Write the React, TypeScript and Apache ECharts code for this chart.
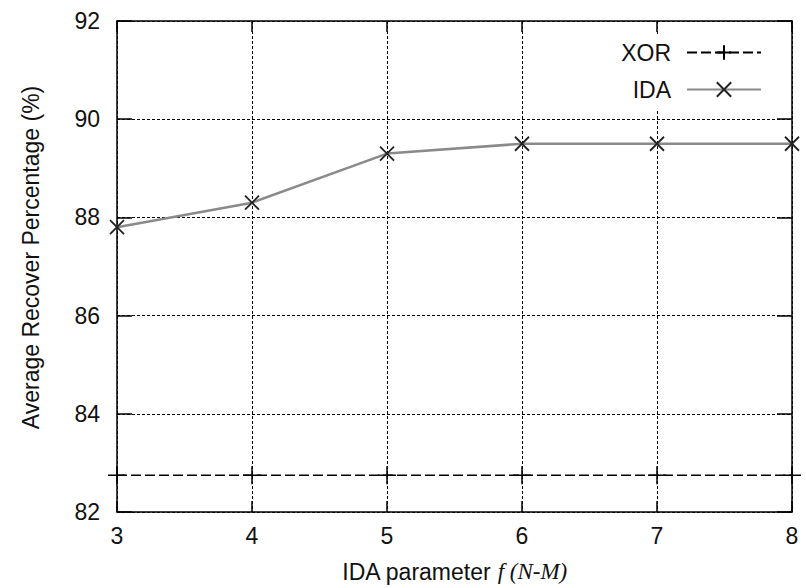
import React, { useEffect, useRef } from "react";
import * as echarts from "echarts";

const xValues = [3, 4, 5, 6, 7, 8];
const xorValues = [82.75, 82.75, 82.75, 82.75, 82.75, 82.75];
const idaValues = [87.8, 88.3, 89.3, 89.5, 89.5, 89.5];
const seriesNames = ["XOR", "IDA"];
const yAxisTitle = "Average Recover Percentage (%)";

const FONT = "Liberation Sans, Arial, sans-serif";
const PLUS = "path://M0,5 L10,5 M5,0 L5,10";
const CROSS = "path://M0,0 L10,10 M10,0 L0,10";

export default function App() {
  const ref = useRef<HTMLDivElement>(null);
  useEffect(() => {
    if (!ref.current) return;
    const chart = echarts.init(ref.current, null, { renderer: "svg" });
    const grid = { left: 117, right: 14, top: 21, bottom: 75 };
    const gridLine = { lineStyle: { color: "#000", width: 1, type: [3, 2] as any } };
    const axisLine = { show: true, onZero: false, lineStyle: { color: "#000", width: 1.5 } };
    chart.setOption({
      animation: false,
      backgroundColor: "#fff",
      grid,
      legend: {
        orient: "vertical",
        right: 16,
        top: 36,
        align: "right",
        itemWidth: 74,
        itemHeight: 18,
        itemGap: 14,
        padding: [5, 28, 10, 25],
        backgroundColor: "#fff",
        data: seriesNames,
        textStyle: { fontSize: 23, fontFamily: FONT, color: "#111", padding: [0, 11, 0, 0] },
      },
      xAxis: [
        {
          type: "value",
          min: 3,
          max: 8,
          interval: 1,
          position: "bottom",
          axisLine,
          axisTick: { show: true, inside: true, length: 11, lineStyle: { color: "#000", width: 1.5 } },
          axisLabel: { fontSize: 23, fontFamily: FONT, color: "#111", margin: 12 },
          splitLine: { show: true, ...gridLine },
          name: "{a|IDA parameter }{b|f (N-M)}",
          nameLocation: "middle",
          nameGap: 48,
          nameTextStyle: {
            rich: {
              a: { fontSize: 23, fontFamily: FONT, color: "#111" },
              b: { fontSize: 23, fontFamily: "Liberation Serif, Times New Roman, serif", fontStyle: "italic", color: "#111" },
            },
          },
        },
        {
          type: "value",
          min: 3,
          max: 8,
          interval: 1,
          position: "top",
          axisLine,
          axisTick: { show: true, inside: true, length: 11, lineStyle: { color: "#000", width: 1.5 } },
          axisLabel: { show: false },
          splitLine: { show: false },
        },
      ],
      yAxis: [
        {
          type: "value",
          min: 82,
          max: 92,
          interval: 2,
          position: "left",
          axisLine,
          axisTick: { show: true, inside: true, length: 15, lineStyle: { color: "#000", width: 1.5 } },
          axisLabel: { fontSize: 23, fontFamily: FONT, color: "#111", margin: 17 },
          splitLine: { show: true, ...gridLine },
          name: yAxisTitle,
          nameLocation: "middle",
          nameGap: 75,
          nameTextStyle: { fontSize: 23, fontFamily: FONT, color: "#111", padding: [0, 0, 0, 18] },
        },
        {
          type: "value",
          min: 82,
          max: 92,
          interval: 2,
          position: "right",
          axisLine,
          axisTick: { show: true, inside: true, length: 15, lineStyle: { color: "#000", width: 1.5 } },
          axisLabel: { show: false },
          splitLine: { show: false },
        },
      ],
      series: [
        {
          name: seriesNames[0],
          type: "line",
          data: xValues.map((x, i) => [x, xorValues[i]]),
          symbol: PLUS,
          symbolSize: 18,
          showAllSymbol: true,
          lineStyle: { color: "#000", width: 1.5, type: [10, 4] as any },
          itemStyle: { color: "#000", borderColor: "#000", borderWidth: 1.5 },
          z: 3,
        },
        {
          name: seriesNames[1],
          type: "line",
          data: xValues.map((x, i) => [x, idaValues[i]]),
          symbol: CROSS,
          symbolSize: 14,
          showAllSymbol: true,
          lineStyle: { color: "#8a8a8a", width: 2.5 },
          itemStyle: { color: "#222", borderColor: "#222", borderWidth: 1.8 },
          z: 3,
        },
      ],
    });
    return () => chart.dispose();
  }, []);
  return <div ref={ref} style={{ width: 806, height: 588, position: "absolute", left: 0, top: 0 }} />;
}
